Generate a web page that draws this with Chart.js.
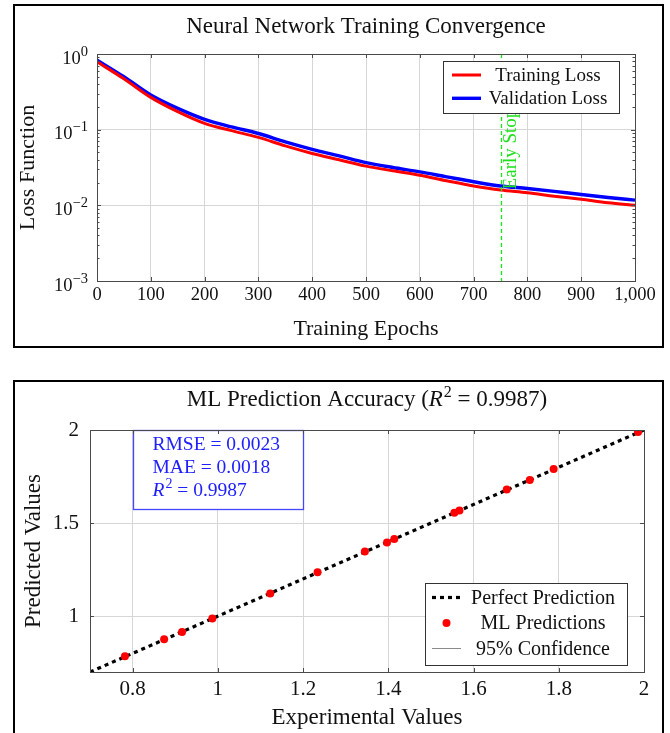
<!DOCTYPE html>
<html><head><meta charset="utf-8">
<script src="https://cdn.jsdelivr.net/npm/chart.js@4.4.1/dist/chart.umd.min.js"></script>
<style>
html,body{margin:0;padding:0;background:#fff;overflow:hidden;width:670px;height:733px;}
.frame{position:absolute;border:2px solid #000;box-sizing:border-box;}
#f1{left:13px;top:4px;width:651px;height:344px;}
#f2{left:13px;top:380px;width:651px;height:380px;}
canvas{display:block}
</style></head><body>
<div class="frame" id="f1"><canvas id="c1" width="647" height="340" style="width:647px;height:340px"></canvas></div>
<div class="frame" id="f2"><canvas id="c2" width="647" height="376" style="width:647px;height:376px"></canvas></div>
<script>
// ---------- data: chart 1 ----------
const epochs = [0,50,100,150,200,250,300,350,400,450,500,550,600,650,700,750,800,850,900,950,1000];
const trainingLoss = [0.79,0.47,0.267,0.173,0.121,0.097,0.079,0.061,0.0485,0.040,0.033,0.0286,0.025,0.0211,0.018,0.0159,0.0147,0.0132,0.012,0.0108,0.010];
const validationLoss = [0.83,0.50,0.287,0.191,0.137,0.109,0.089,0.069,0.055,0.045,0.0366,0.0316,0.0277,0.0238,0.0205,0.018,0.0167,0.0153,0.0139,0.0127,0.0117];
const epochTicks = [0,100,200,300,400,500,600,700,800,900,1000];
const lossTicks = [0.001,0.01,0.1,1];
const earlyStopEpoch = 750;
const earlyStopLabel = 'Early Stop';
const chart1Title = 'Neural Network Training Convergence';
const seriesNames1 = ['Training Loss','Validation Loss'];

// ---------- data: chart 2 ----------
const experimental = [0.782,0.874,0.916,0.987,1.123,1.234,1.345,1.397,1.414,1.555,1.567,1.678,1.732,1.788,1.986];
const predicted    = [0.784,0.876,0.915,0.988,1.122,1.236,1.347,1.395,1.415,1.556,1.568,1.681,1.732,1.791,1.989];
const perfectX = [0.7,2];
const perfectY = [0.7,2];
const expTicks = [0.8,1,1.2,1.4,1.6,1.8,2];
const predTicks = [1,1.5,2];
const statNames = ['RMSE','MAE','R2'];
const statValues = ['0.0023','0.0018','0.9987'];
const seriesNames2 = ['Perfect Prediction','ML Predictions','95% Confidence'];

const SERIF = "'Liberation Serif','Times New Roman',serif";
const GRID = '#d6d6d6';
const AXIS = '#4a4a4a';
const TXT = '#111';

function drawFrame(chart, minorLog){
  const {ctx, chartArea:a, scales:{x,y}} = chart;
  ctx.save();
  ctx.strokeStyle = AXIS; ctx.lineWidth = 1;
  ctx.beginPath();
  x.ticks.forEach(t=>{const px=Math.round(x.getPixelForValue(t.value))+0.5;
    ctx.moveTo(px,a.bottom); ctx.lineTo(px,a.bottom-4); ctx.moveTo(px,a.top); ctx.lineTo(px,a.top+4);});
  y.ticks.forEach(t=>{const py=Math.round(y.getPixelForValue(t.value))+0.5;
    ctx.moveTo(a.left,py); ctx.lineTo(a.left+4,py); ctx.moveTo(a.right,py); ctx.lineTo(a.right-4,py);});
  if (minorLog){
    for (let d=Math.round(Math.log10(y.min)); d<Math.round(Math.log10(y.max)); d++){
      for (let k=2;k<=9;k++){
        const py=Math.round(y.getPixelForValue(k*Math.pow(10,d)))+0.5;
        ctx.moveTo(a.left,py); ctx.lineTo(a.left+2.5,py); ctx.moveTo(a.right,py); ctx.lineTo(a.right-2.5,py);
      }
    }
  }
  ctx.stroke();
  ctx.strokeRect(Math.round(a.left)+0.5, Math.round(a.top)+0.5, Math.round(a.right-a.left), Math.round(a.bottom-a.top));
  ctx.restore();
}

function drawLegend(chart, cfg){
  const {ctx, chartArea:a} = chart;
  const x0 = Math.round(a.right - cfg.right - cfg.width);
  const y0 = Math.round(cfg.top != null ? a.top + cfg.top : a.bottom - cfg.bottom - cfg.height);
  ctx.save();
  ctx.fillStyle = '#fff'; ctx.fillRect(x0,y0,cfg.width,cfg.height);
  ctx.strokeStyle = '#333'; ctx.lineWidth = 1; ctx.strokeRect(x0+0.5,y0+0.5,cfg.width,cfg.height);
  chart.data.datasets.forEach((ds,i)=>{
    const yy = y0 + cfg.rowTop + i*cfg.rowGap;
    if (ds.legendKind === 'point'){
      ctx.fillStyle = ds.backgroundColor;
      ctx.beginPath(); ctx.arc(x0+(cfg.s0+cfg.s1)/2, yy, ds.pointRadius, 0, Math.PI*2); ctx.fill();
    } else {
      ctx.strokeStyle = ds.borderColor; ctx.lineWidth = ds.borderWidth;
      ctx.setLineDash(ds.borderDash || []);
      ctx.beginPath(); ctx.moveTo(x0+cfg.s0, yy); ctx.lineTo(x0+cfg.s1, yy); ctx.stroke();
      ctx.setLineDash([]);
    }
    ctx.fillStyle = TXT; ctx.font = cfg.font; ctx.textAlign = 'center'; ctx.textBaseline = 'middle';
    ctx.fillText(ds.label, x0+cfg.textX, yy+1);
  });
  ctx.restore();
}

// draws text segments [{t, italic, sup}] from x (left, right or centre aligned)
function drawRich(ctx, segs, x, y, size, color, align, supSize, supRise){
  const ss = supSize || Math.round(size*0.7);
  const rise = supRise != null ? supRise : size*0.38;
  const fontOf = s => (s.italic?'italic ':'') + (s.sup?ss:size) + 'px ' + SERIF;
  let total = 0;
  segs.forEach(s=>{ctx.font = fontOf(s); total += ctx.measureText(s.t).width + (s.italic ? 1 : 0);});
  let cx = align==='center' ? x - total/2 : align==='right' ? x - total : x;
  ctx.fillStyle = color; ctx.textAlign = 'left'; ctx.textBaseline = 'alphabetic';
  segs.forEach(s=>{
    ctx.font = fontOf(s);
    ctx.fillText(s.t, cx, s.sup ? y - rise : y);
    cx += ctx.measureText(s.t).width + (s.italic ? 1 : 0);
  });
}

// ---------- chart 1 ----------
const plugin1 = {
  id:'deco1',
  afterDatasetsDraw(chart){
    const {ctx, chartArea:a, scales:{x,y}} = chart;
    const px = Math.round(x.getPixelForValue(earlyStopEpoch))+0.5;
    ctx.save();
    ctx.strokeStyle = 'rgb(20,235,20)'; ctx.lineWidth = 1.3; ctx.setLineDash([4,3]);
    ctx.beginPath(); ctx.moveTo(px,a.top); ctx.lineTo(px,a.bottom); ctx.stroke();
    ctx.setLineDash([]);
    ctx.translate(px, y.getPixelForValue(0.0555)); ctx.rotate(-Math.PI/2);
    ctx.font = '19px ' + SERIF; ctx.fillStyle = 'rgb(30,225,30)'; ctx.textAlign = 'center'; ctx.textBaseline = 'alphabetic';
    ctx.fillText(earlyStopLabel, 0, 14);
    ctx.restore();
    drawFrame(chart, true);
    drawLegend(chart, {right:16, top:7, width:176, height:52, rowTop:14, rowGap:23.3, s0:9, s1:38, textX:105, font:'19px '+SERIF});
  },
  afterDraw(chart){
    const {ctx, chartArea:a, scales:{y}} = chart;
    ctx.save();
    y.ticks.forEach(t=>{
      const py = y.getPixelForValue(t.value);
      const e = Math.round(Math.log10(t.value));
      drawRich(ctx, [{t:'10'},{t:(e<0?'\u2212':'')+Math.abs(e), sup:true}], a.left-9, py+9.5, 18.5, TXT, 'right', 14.5, 8);
    });
    ctx.restore();
  }
};

new Chart(document.getElementById('c1'), {
  type:'line',
  data:{datasets:[
    {label:seriesNames1[0], data:epochs.map((e,i)=>({x:e,y:trainingLoss[i]})), borderColor:'#ff0000', backgroundColor:'#ff0000', borderWidth:3, pointRadius:0, cubicInterpolationMode:'monotone', fill:false},
    {label:seriesNames1[1], data:epochs.map((e,i)=>({x:e,y:validationLoss[i]})), borderColor:'#0000ff', backgroundColor:'#0000ff', borderWidth:3.4, pointRadius:0, cubicInterpolationMode:'monotone', fill:false}
  ]},
  options:{
    responsive:false, animation:false, devicePixelRatio:1,
    layout:{padding:{left:0,right:27,top:0,bottom:0}},
    plugins:{
      legend:{display:false}, tooltip:{enabled:false},
      title:{display:true, fullSize:false, text:chart1Title, color:TXT, font:{family:SERIF,size:23,weight:'normal'}, padding:{top:7,bottom:13.4}}
    },
    scales:{
      x:{type:'linear', min:0, max:1000,
        afterBuildTicks:s=>{s.ticks = epochTicks.map(v=>({value:v}));},
        afterFit:s=>{s.height = 65;},
        ticks:{callback:v=>Number(v).toLocaleString('en-US'), color:TXT, font:{family:SERIF,size:18.5}, padding:3, maxRotation:0, autoSkip:false},
        grid:{color:GRID, drawTicks:false}, border:{display:false},
        title:{display:true, text:'Training Epochs', color:TXT, font:{family:SERIF,size:22}, padding:{top:0,bottom:4}}
      },
      y:{type:'logarithmic', min:0.001, max:1,
        afterBuildTicks:s=>{s.ticks = lossTicks.map(v=>({value:v}));},
        afterFit:s=>{s.width = 82;},
        ticks:{display:false},
        grid:{color:GRID, drawTicks:false}, border:{display:false},
        title:{display:true, text:'Loss Function', color:TXT, font:{family:SERIF,size:22}, padding:{top:0,bottom:0}}
      }
    }
  },
  plugins:[plugin1]
});

// ---------- chart 2 ----------
const plugin2 = {
  id:'deco2',
  afterDatasetsDraw(chart){
    const {ctx, chartArea:a, scales:{x,y}} = chart;
    const bx0 = Math.round(x.getPixelForValue(0.8))+0.5, bx1 = Math.round(x.getPixelForValue(1.2))+0.5;
    const by1 = Math.round(y.getPixelForValue(1.575))+0.5, by0 = Math.round(a.top)+0.5;
    ctx.save();
    ctx.fillStyle = '#fff'; ctx.fillRect(bx0,by0,bx1-bx0,by1-by0);
    ctx.strokeStyle = 'rgb(70,70,255)'; ctx.lineWidth = 1.3; ctx.strokeRect(bx0,by0,bx1-bx0,by1-by0);
    statNames.forEach((n,i)=>{
      const segs = n==='R2' ? [{t:'R',italic:true},{t:'2',sup:true},{t:' = '+statValues[i]}] : [{t:n+' = '+statValues[i]}];
      drawRich(ctx, segs, bx0+19, a.top+19.5+i*23, 19.5, '#2020ff', 'left');
    });
    ctx.restore();
    drawFrame(chart, false);
    drawLegend(chart, {right:17, bottom:7, width:202, height:82, rowTop:14.5, rowGap:25.5, s0:7, s1:36, textX:118, font:'20px '+SERIF});
  },
  afterDraw(chart){
    const {ctx, chartArea:a} = chart;
    ctx.save();
    drawRich(ctx, [{t:'ML Prediction Accuracy ('},{t:'R',italic:true},{t:'2',sup:true},{t:' = 0.9987)'}], (a.left+a.right)/2, 23.5, 23, TXT, 'center');
    ctx.restore();
  }
};

new Chart(document.getElementById('c2'), {
  type:'scatter',
  data:{datasets:[
    {label:seriesNames2[0], data:perfectX.map((v,i)=>({x:v,y:perfectY[i]})), showLine:true, borderColor:'#000', backgroundColor:'#000', borderWidth:3.2, borderDash:[4,4], pointRadius:0, order:2},
    {label:seriesNames2[1], legendKind:'point', data:experimental.map((v,i)=>({x:v,y:predicted[i]})), showLine:false, borderColor:'#ff0000', backgroundColor:'#ff0000', pointRadius:4, pointBorderWidth:0, order:1},
    {label:seriesNames2[2], data:[], showLine:true, borderColor:'#8a8a8a', backgroundColor:'#8a8a8a', borderWidth:1, pointRadius:0, order:3}
  ]},
  options:{
    responsive:false, animation:false, devicePixelRatio:1,
    layout:{padding:{left:0,right:18,top:48,bottom:26}},
    plugins:{legend:{display:false}, tooltip:{enabled:false}, title:{display:false}},
    scales:{
      x:{type:'linear', min:0.7, max:2,
        afterBuildTicks:s=>{s.ticks = expTicks.map(v=>({value:v}));},
        afterFit:s=>{s.height = 60;},
        ticks:{callback:v=>String(Math.round(v*10)/10), color:TXT, font:{family:SERIF,size:21}, padding:5, maxRotation:0, autoSkip:false},
        grid:{color:GRID, drawTicks:false}, border:{display:false},
        title:{display:true, text:'Experimental Values', color:TXT, font:{family:SERIF,size:23}, padding:{top:0,bottom:0}}
      },
      y:{type:'linear', min:0.7, max:2,
        afterBuildTicks:s=>{s.ticks = predTicks.map(v=>({value:v}));},
        afterFit:s=>{s.width = 75;},
        ticks:{callback:v=>String(Math.round(v*10)/10), color:TXT, font:{family:SERIF,size:21}, padding:11, autoSkip:false},
        grid:{color:GRID, drawTicks:false}, border:{display:false},
        title:{display:true, text:'Predicted Values', color:TXT, font:{family:SERIF,size:23}, padding:{top:5,bottom:0}}
      }
    }
  },
  plugins:[plugin2]
});
</script>
</body></html>
